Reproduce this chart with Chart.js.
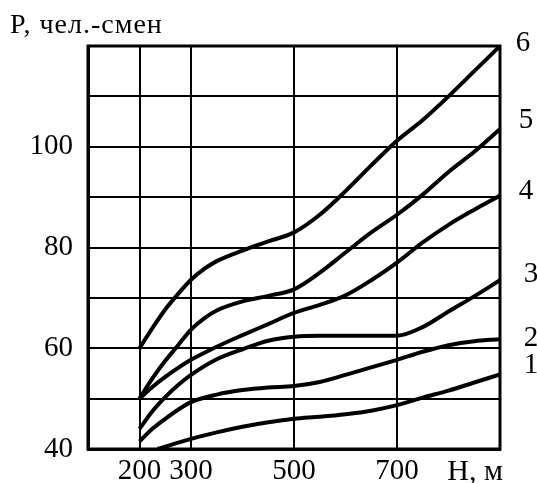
<!DOCTYPE html>
<html><head><meta charset="utf-8">
<script src="https://cdn.jsdelivr.net/npm/chart.js@4/dist/chart.umd.min.js"></script>
<style>html,body{margin:0;padding:0;background:#fff;}#wrap{width:537px;height:483px;}</style>
</head><body><div id="wrap"><canvas id="c" width="537" height="483"></canvas></div>
<script>
// Data (H in metres, P in man-shifts)
const curve1H = [235, 300, 350, 400, 450, 500, 550, 600, 650, 700, 750, 800, 850, 900];
const curve1P = [40, 42, 43.3, 44.4, 45.3, 46, 46.4, 46.9, 47.6, 48.7, 50.2, 51.6, 53.2, 54.8];
const curve2H = [200, 225, 250, 275, 300, 350, 400, 450, 500, 550, 600, 650, 700, 750, 800, 850, 900];
const curve2P = [41.5, 44, 46, 47.8, 49.3, 50.8, 51.7, 52.2, 52.5, 53.3, 54.7, 56.2, 57.7, 59.3, 60.6, 61.4, 61.8];
const curve3H = [200, 225, 250, 275, 300, 350, 400, 450, 500, 550, 600, 650, 700, 750, 800, 850, 900];
const curve3P = [44, 47.5, 50.3, 52.7, 54.7, 57.8, 59.8, 61.5, 62.3, 62.5, 62.5, 62.5, 62.5, 64.2, 67.3, 70.3, 73.5];
const curve4H = [200, 225, 250, 275, 300, 350, 400, 450, 500, 550, 600, 650, 700, 750, 800, 850, 900];
const curve4P = [50, 52.3, 54.3, 56.1, 57.7, 60.3, 62.6, 64.8, 67, 68.6, 70.5, 73.5, 77, 81, 84.5, 87.5, 90.3];
const curve5H = [200, 225, 250, 275, 300, 325, 350, 400, 450, 500, 550, 600, 650, 700, 750, 800, 850, 900];
const curve5P = [50, 54, 57.5, 60.6, 63.7, 65.9, 67.5, 69.3, 70.4, 71.7, 75, 79, 83, 86.5, 90.5, 95, 99, 103.5];
const curve6H = [200, 225, 250, 275, 300, 325, 350, 400, 450, 500, 550, 600, 650, 700, 750, 800, 850, 900];
const curve6P = [60, 64, 67.7, 70.8, 73.6, 75.7, 77.3, 79.4, 81.2, 83, 86.5, 91.2, 96.3, 101.2, 105.3, 110, 115, 120];
const seriesNames = ['1', '2', '3', '4', '5', '6'];
const seriesLabelP = [56.5, 62, 74.7, 91.2, 105.3, 120.6];
const xTickValues = [200, 300, 500, 700];
const xAxisTitle = 'Н, м';
const yTickValues = [40, 60, 80, 100];
const yAxisTitle = 'P, чел.-смен';

const FONT = "'Liberation Serif', 'Times New Roman', serif";
const FS = 29;

const allH = [curve1H, curve2H, curve3H, curve4H, curve5H, curve6H];
const allP = [curve1P, curve2P, curve3P, curve4P, curve5P, curve6P];
const datasets = allH.map((hs, i) => ({
  label: seriesNames[i],
  data: hs.map((h, j) => ({x: h, y: allP[i][j]})),
  borderColor: '#000',
  borderWidth: 4,
  pointRadius: 0,
  fill: false,
  cubicInterpolationMode: 'monotone'
}));

const labelDx = [31, 31, 31, 26, 26, 23];

const decor = {
  id: 'decor',
  beforeDatasetsDraw(chart) {
    const ctx = chart.ctx, a = chart.chartArea;
    ctx.save();
    ctx.strokeStyle = '#000';
    ctx.lineWidth = 3;
    ctx.strokeRect(a.left, a.top, a.right - a.left, a.bottom - a.top);
    ctx.restore();
  },
  afterDraw(chart) {
    const ctx = chart.ctx, a = chart.chartArea, ys = chart.scales.y;
    ctx.save();
    ctx.fillStyle = '#000';
    ctx.font = '28px ' + FONT;
    ctx.textAlign = 'left';
    ctx.textBaseline = 'alphabetic';
    try { ctx.letterSpacing = '1px'; } catch (e) {}
    ctx.fillText(yAxisTitle, 10, 33);
    try { ctx.letterSpacing = '0px'; } catch (e) {}
    ctx.font = '30px ' + FONT;
    ctx.textAlign = 'right';
    ctx.fillText(xAxisTitle, a.right + 3, a.bottom + 31);
    ctx.font = FS + 'px ' + FONT;
    ctx.textAlign = 'center';
    ctx.textBaseline = 'middle';
    seriesNames.forEach((n, i) => {
      ctx.fillText(n, a.right + labelDx[i], ys.getPixelForValue(seriesLabelP[i]));
    });
    ctx.restore();
  }
};

new Chart(document.getElementById('c'), {
  type: 'line',
  data: { datasets },
  plugins: [decor],
  options: {
    responsive: false,
    animation: false,
    devicePixelRatio: 1,
    layout: { padding: { left: 0, right: 37, top: 46, bottom: 0 } },
    plugins: { legend: { display: false }, tooltip: { enabled: false }, title: { display: false } },
    scales: {
      x: {
        type: 'linear', min: 100, max: 900,
        afterBuildTicks: s => { s.ticks = xTickValues.map(v => ({value: v})); },
        afterFit: s => { s.height = 34; },
        ticks: {
          autoSkip: false, maxRotation: 0, padding: 5, color: '#000',
          font: { family: FONT, size: FS },
          callback: v => String(v)
        },
        grid: { drawTicks: false, lineWidth: 2, color: '#000' },
        border: { display: true, width: 3, color: '#000' }
      },
      y: {
        type: 'linear', min: 40, max: 120,
        afterFit: s => { s.width = 88; },
        ticks: {
          stepSize: 10, autoSkip: false, padding: 15, color: '#000',
          font: { family: FONT, size: FS },
          callback: v => yTickValues.includes(v) ? String(v) : ''
        },
        grid: { drawTicks: false, lineWidth: 2, color: '#000' },
        border: { display: true, width: 3, color: '#000' }
      }
    }
  }
});
</script></body></html>
